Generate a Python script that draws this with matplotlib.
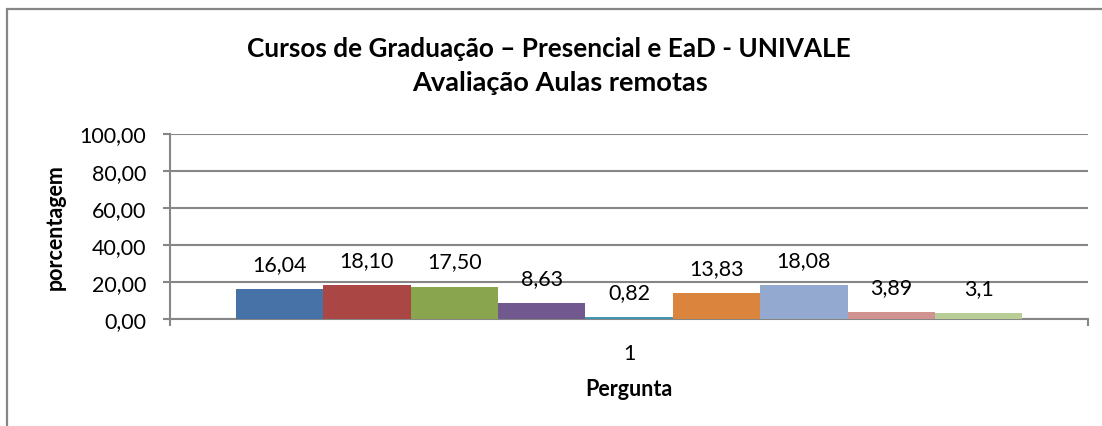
import matplotlib
matplotlib.use("Agg")
from matplotlib import pyplot as plt
from matplotlib.patches import Rectangle
import numpy as np

# data
categories = ["1"]
values = [16.04, 18.10, 17.50, 8.63, 0.82, 13.83, 18.08, 3.89, 3.1]
value_labels = ["16,04", "18,10", "17,50", "8,63", "0,82", "13,83", "18,08", "3,89", "3,1"]
colors = ["#4672A8", "#AA4644", "#89A54E", "#71588F", "#4198AF",
          "#DB843D", "#93A9CF", "#D19392", "#B9CD96"]
y_ticks = [0, 20, 40, 60, 80, 100]
y_tick_labels = ["0,00", "20,00", "40,00", "60,00", "80,00", "100,00"]
title_lines = ["Cursos de Graduação – Presencial e EaD - UNIVALE", "Avaliação Aulas remotas"]

plt.rcParams["font.family"] = ["Lato", "DejaVu Sans"]

W, H = 1102, 427
fig = plt.figure(figsize=(W / 100, H / 100), dpi=100)
ax = fig.add_axes([170 / W, 1 - 320 / H, (1088 - 170) / W, (320 - 134.5) / H])

grey = "#868686"

# outer chart border (runs off the right and bottom edges)
fig.patches.append(Rectangle((7 / W, -0.1), 1.2, 1 - 10 / H + 0.1, transform=fig.transFigure,
                             fill=False, edgecolor=grey, linewidth=1.6))

bar_w = 87.4 / 918
n = len(values)
x = (np.arange(n) - (n - 1) / 2) * bar_w
ax.bar(x, values, width=bar_w, color=colors, linewidth=0, zorder=3)

for xi, v, lab in zip(x, values, value_labels):
    ax.annotate(lab, (xi, v), xytext=(0, 18), textcoords="offset points",
                ha="center", va="center", fontsize=15.5, color="black")

ax.set_xlim(-0.5, 0.5)
ax.set_ylim(0, 100)

ax.set_yticks(y_ticks)
ax.set_yticklabels(y_tick_labels, fontsize=15.5)
ax.yaxis.grid(True, color=grey, linewidth=1.5, zorder=0)
ax.tick_params(axis="y", length=5, width=1.5, color=grey, pad=12)

ax.set_xticks([-0.5, 0.5])
ax.set_xticklabels(["", ""])
ax.set_xticks([0], minor=True)
ax.set_xticklabels(categories, minor=True, fontsize=15.5)
ax.tick_params(axis="x", which="major", length=5, width=1.5, color=grey)
ax.tick_params(axis="x", which="minor", length=0, pad=17)

for side in ["top", "right"]:
    ax.spines[side].set_visible(False)
for side in ["left", "bottom"]:
    ax.spines[side].set_color(grey)
    ax.spines[side].set_linewidth(1.5)

ax.set_ylabel("porcentagem", fontsize=15.5, fontweight="bold", va="center")
ax.yaxis.set_label_coords(-0.1245, 0.5)
ax.set_xlabel("Pergunta", fontsize=15.5, fontweight="bold", va="center")
ax.xaxis.set_label_coords(0.5, -0.377)

fig.text(548.5 / W, 1 - 57 / H, title_lines[0], ha="center", va="baseline",
         fontsize=18.8, fontweight="bold")
fig.text(560 / W, 1 - 91 / H, title_lines[1], ha="center", va="baseline",
         fontsize=19.6, fontweight="bold")

fig.savefig("out.png", dpi=100)
plt.close(fig)
